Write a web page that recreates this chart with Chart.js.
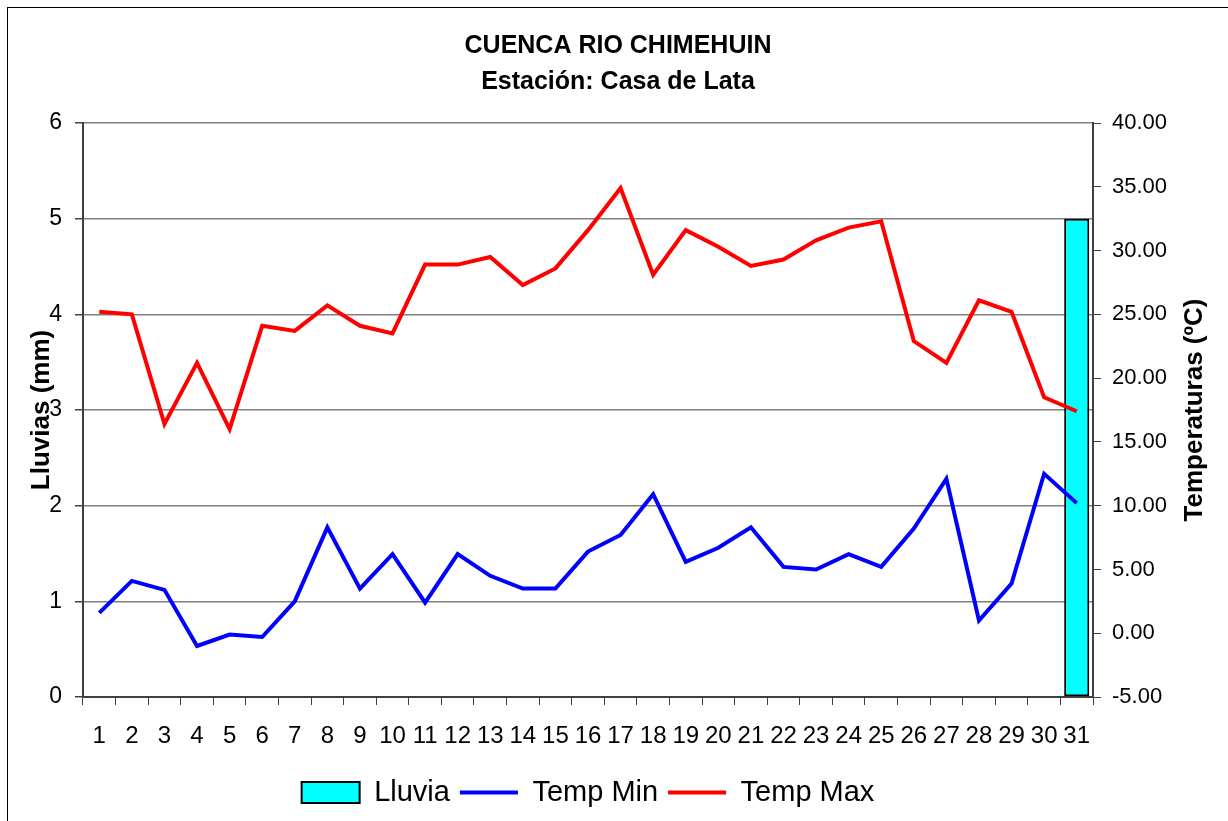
<!DOCTYPE html>
<html>
<head>
<meta charset="utf-8">
<script src="https://cdn.jsdelivr.net/npm/chart.js@4/dist/chart.umd.min.js"></script>
<style>
  html, body { margin: 0; padding: 0; background: #fff; }
  #wrap { position: relative; width: 1228px; height: 821px; overflow: hidden; }
  #frame { position: absolute; left: 7px; top: 7px; width: 1300px; height: 900px; border-left: 1px solid #000; border-top: 1px solid #000; }
  canvas { position: absolute; left: 0; top: 0; }
</style>
</head>
<body>
<div id="wrap">
  <div id="frame"></div>
  <canvas id="chart" width="1228" height="821"></canvas>
</div>
<script>
// chart data
const days = ['1','2','3','4','5','6','7','8','9','10','11','12','13','14','15','16','17','18','19','20','21','22','23','24','25','26','27','28','29','30','31']
const lluvia = [0,0,0,0,0,0,0,0,0,0,0,0,0,0,0,0,0,0,0,0,0,0,0,0,0,0,0,0,0,0,5]
const tempMin = [1.6, 4.1, 3.4, -1.0, -0.1, -0.3, 2.5, 8.3, 3.5, 6.2, 2.4, 6.2, 4.5, 3.5, 3.5, 6.4, 7.7, 10.9, 5.6, 6.7, 8.3, 5.2, 5.0, 6.2, 5.2, 8.2, 12.1, 1.0, 3.9, 12.5, 10.2]
const tempMax = [25.2, 25.0, 16.4, 21.2, 16.0, 24.1, 23.7, 25.7, 24.1, 23.5, 28.9, 28.9, 29.5, 27.3, 28.6, 31.6, 34.9, 28.1, 31.6, 30.3, 28.8, 29.3, 30.8, 31.8, 32.3, 22.9, 21.2, 26.1, 25.2, 18.5, 17.4]

const titleLines = ['CUENCA RIO CHIMEHUIN', 'Estación: Casa de Lata']
const leftTitle = 'Lluvias (mm)'
const rightTitle = 'Temperaturas (ºC)'

const fontFamily = 'Arial, "Liberation Sans", sans-serif'
const axisColor = '#404040'

// right axis title reads bottom-to-top like the left one
const rightTitlePlugin = {
    id: 'rightTitle',
    afterDraw(chart) {
        let ctx = chart.ctx
        let area = chart.chartArea
        ctx.save()
        ctx.translate(1195, (area.top + area.bottom) / 2)
        ctx.rotate(-Math.PI / 2)
        ctx.font = 'bold 26px ' + fontFamily
        ctx.fillStyle = '#000'
        ctx.textAlign = 'center'
        ctx.textBaseline = 'middle'
        ctx.fillText(rightTitle, 0, 0)
        ctx.restore()
    }
}

Chart.defaults.font.family = fontFamily
Chart.defaults.color = '#000'

let chart = new Chart(document.getElementById('chart'), {
    type: 'bar',
    data: {
        labels: days,
        datasets: [
            {
                label: 'Lluvia',
                data: lluvia,
                yAxisID: 'y',
                backgroundColor: '#00FFFF',
                borderColor: '#000',
                borderWidth: 2,
                borderSkipped: false,
                barPercentage: 0.77,
                categoryPercentage: 1,
                pointStyle: 'rect',
                order: 2
            },
            {
                type: 'line',
                label: 'Temp Min',
                data: tempMin,
                yAxisID: 'y1',
                borderColor: '#0000FF',
                backgroundColor: '#0000FF',
                borderWidth: 4,
                pointRadius: 0,
                pointStyle: 'line',
                tension: 0,
                order: 1
            },
            {
                type: 'line',
                label: 'Temp Max',
                data: tempMax,
                yAxisID: 'y1',
                borderColor: '#FF0000',
                backgroundColor: '#FF0000',
                borderWidth: 4,
                pointRadius: 0,
                pointStyle: 'line',
                tension: 0,
                order: 0
            }
        ]
    },
    options: {
        responsive: false,
        animation: false,
        devicePixelRatio: 1,
        layout: { padding: { left: 8, top: 8, right: 0, bottom: 4 } },
        plugins: {
            title: {
                display: true,
                text: titleLines,
                color: '#000',
                font: { size: 25, weight: 'bold', lineHeight: 1.44 },
                padding: { top: 20, bottom: 23 }
            },
            legend: {
                position: 'bottom',
                fullSize: false,
                labels: {
                    usePointStyle: true,
                    pointStyleWidth: 58,
                    boxHeight: 21,
                    padding: 10,
                    font: { size: 29 },
                    color: '#000',
                    sort: (a, b) => a.datasetIndex - b.datasetIndex
                }
            },
            tooltip: { enabled: false }
        },
        scales: {
            x: {
                offset: true,
                grid: { offset: true, drawOnChartArea: false, tickLength: 8, color: axisColor, lineWidth: 1 },
                border: { color: axisColor, width: 2 },
                ticks: { autoSkip: false, maxRotation: 0, padding: 17, font: { size: 24 }, color: '#000' },
                afterFit: scale => { scale.height = 71 }
            },
            y: {
                position: 'left',
                min: 0,
                max: 6,
                ticks: { stepSize: 1, padding: 13, font: { size: 23 }, color: '#000' },
                grid: { color: '#808080', lineWidth: 1.5, tickLength: 8, tickColor: axisColor },
                border: { color: axisColor, width: 2 },
                title: { display: true, text: leftTitle, font: { size: 26, weight: 'bold' }, color: '#000', padding: { top: 18, bottom: 0 } },
                afterFit: scale => { scale.width = 75 }
            },
            y1: {
                position: 'right',
                min: -5,
                max: 40,
                ticks: { stepSize: 5, padding: 11, font: { size: 22 }, color: '#000', callback: v => v.toFixed(2) },
                grid: { drawOnChartArea: false, tickLength: 8, color: axisColor },
                border: { color: axisColor, width: 2 },
                afterFit: scale => { scale.width = 135 }
            }
        }
    },
    plugins: [rightTitlePlugin]
})
</script>
</body>
</html>
